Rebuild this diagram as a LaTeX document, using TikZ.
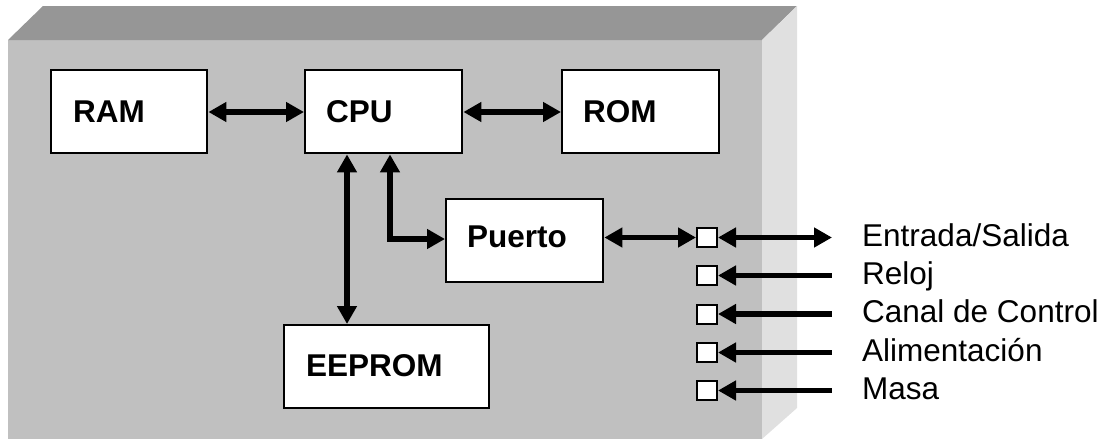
\documentclass[tikz,border=0pt]{standalone}
\usepackage{fontspec}
\setmainfont{Liberation Sans}
\usetikzlibrary{arrows.meta}
\definecolor{frontgray}{HTML}{C0C0C0}
\definecolor{topgray}{HTML}{969696}
\definecolor{sidegray}{HTML}{E0E0E0}
\tikzset{
  head/.tip={Triangle[length=18pt,width=19pt]},
  block/.style={draw=black, line width=2.4pt, fill=white, anchor=north west, minimum height=83pt},
  blocklabel/.style={anchor=base west, inner sep=0pt, font=\fontsize{31.5}{37}\selectfont\bfseries},
  pin/.style={draw=black, line width=2pt, fill=white, minimum width=20pt, minimum height=19pt, inner sep=0pt},
  sig/.style={anchor=base west, inner sep=0pt, font=\fontsize{31.5}{37}\selectfont},
  bus/.style={line width=5.5pt, head-head},
  inbus/.style={line width=5.5pt, head-},
}
\begin{document}
\begin{tikzpicture}[x=1pt,y=-1pt]
\useasboundingbox (0,0) rectangle (1111,439);
% cabinet: front, top and right faces
\fill[frontgray] (8,40) rectangle (762,439);
\fill[topgray] (8,40) -- (43,6) -- (797,6) -- (762,40) -- cycle;
\fill[sidegray] (762,40) -- (797,6) -- (797,408) -- (762,439) -- cycle;

% blocks
\node[block, minimum width=156pt] (ram) at (50,69) {};
\node[block, minimum width=157pt] (cpu) at (304,69) {};
\node[block, minimum width=157pt] (rom) at (561,69) {};
\node[block, minimum width=157pt] (puerto) at (445,198) {};
\node[block, minimum width=205pt] (eeprom) at (283,324) {};

\node[blocklabel] at (73,122) {RAM};
\node[blocklabel] at (326,122) {CPU};
\node[blocklabel] at (583,122) {ROM};
\node[blocklabel] at (467,247) {Puerto};
\node[blocklabel] at (306,376) {EEPROM};

% internal buses
\draw[bus] (ram.east |- 0,112) -- (cpu.west |- 0,112);
\draw[bus] (cpu.east |- 0,112) -- (rom.west |- 0,112);
\draw[bus] (cpu.south -| 347,0) -- (eeprom.north -| 347,0);
\draw[bus] (cpu.south -| 390,0) |- (puerto.west |- 0,239);

% pins
\node[pin] (p1) at (707,237.5) {};
\node[pin] (p2) at (707,275.5) {};
\node[pin] (p3) at (707,314) {};
\node[pin] (p4) at (707,352.5) {};
\node[pin] (p5) at (707,390.5) {};

\draw[bus] (puerto.east |- p1) -- (p1.west);

% external signals
\coordinate (e1) at (832,237.5);
\coordinate (e2) at (832,275.5);
\coordinate (e3) at (832,314);
\coordinate (e4) at (832,352.5);
\coordinate (e5) at (832,390.5);
\draw[bus] (p1.east) -- (e1);
\draw[inbus] (p2.east) -- (e2);
\draw[inbus] (p3.east) -- (e3);
\draw[inbus] (p4.east) -- (e4);
\draw[inbus] (p5.east) -- (e5);

\node[sig] (l1) at (862,246) {Entrada/Salida};
\node[sig] (l2) at (862,284) {Reloj};
\node[sig] (l3) at (862,322.5) {Canal de Control};
\node[sig] (l4) at (862,361) {Alimentación};
\node[sig] (l5) at (862,399) {Masa};
\end{tikzpicture}
\end{document}
